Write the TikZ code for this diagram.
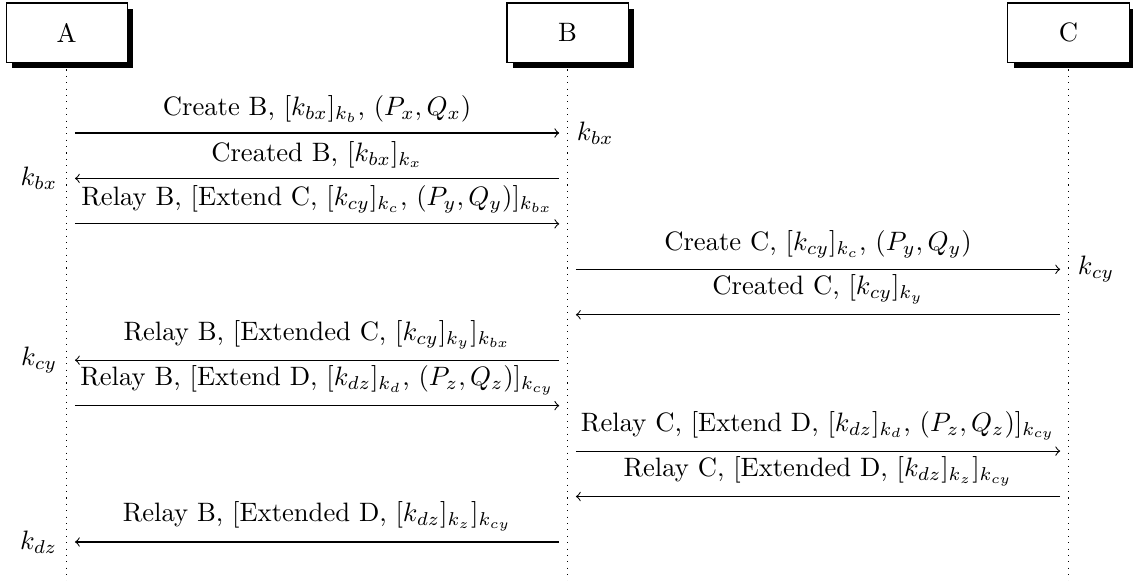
\documentclass[tikz,border=0pt]{standalone}
\usepackage{amsmath,amssymb}
\usepackage{tikz}
\usetikzlibrary{arrows,positioning,calc,shadows}
\tikzstyle{thread}=[draw,fill=white,minimum width=1.6cm,minimum height=0.78cm,drop shadow={opacity=1,fill=black}]
\tikzstyle{mess}=[->,shorten <=1.1mm,shorten >=1.1mm]
\tikzstyle{life}=[dotted]

\begin{document}
\begin{tikzpicture}
\useasboundingbox (0,0) rectangle (14.96,-7.667);
\node [thread] (A) at (0.88,-0.43) {A};
\node [thread,right=5cm of A] (B) {B};
\node [thread,right=5cm of B] (C) {C};
\coordinate (end) at (0,-7.667);
\draw [life] ([yshift=-0.09cm]A.south) -- (A |- end);
\draw [life] ([yshift=-0.09cm]B.south) -- (B |- end);
\draw [life] ([yshift=-0.09cm]C.south) -- (C |- end);
% message levels
\foreach \i in {1,...,10}
  \coordinate (l\i) at (0,{-1.756-0.6*(\i-1)});
% A -- B
\draw [mess] (A |- l1) -- node[above=0.5pt] {Create B, $[k_{bx}]_{k_b}$, $(P_x,Q_x)$} (B |- l1);
\node [right] (kb) at (B |- l1) {$k_{bx}$};
\draw [mess] (B |- l2) -- node[above=0.5pt] {Created B, $[k_{bx}]_{k_x}$} (A |- l2);
\node [left] (ka) at (A |- l2) {$k_{bx}$};
\draw [mess] (A |- l3) -- node[above=0.5pt] {Relay B, [Extend C, $[k_{cy}]_{k_c}$, $(P_y,Q_y)]_{k_{bx}}$} (B |- l3);
% B -- C
\draw [mess] (B |- l4) -- node[above=0.5pt] {Create C, $[k_{cy}]_{k_c}$, $(P_y,Q_y)$} (C |- l4);
\node [right] (kc) at (C |- l4) {$k_{cy}$};
\draw [mess] (C |- l5) -- node[above=0.5pt] {Created C, $[k_{cy}]_{k_y}$} (B |- l5);
\draw [mess] (B |- l6) -- node[above=0.5pt] {Relay B, [Extended C, $[k_{cy}]_{k_y}]_{k_{bx}}$} (A |- l6);
\node [left] (kac) at (A |- l6) {$k_{cy}$};
\draw [mess] (A |- l7) -- node[above=0.5pt] {Relay B, [Extend D, $[k_{dz}]_{k_d}$, $(P_z,Q_z)]_{k_{cy}}$} (B |- l7);
\draw [mess] (B |- l8) -- node[above=0.5pt] {Relay C, [Extend D, $[k_{dz}]_{k_d}$, $(P_z,Q_z)]_{k_{cy}}$} (C |- l8);
\draw [mess] (C |- l9) -- node[above=0.5pt] {Relay C, [Extended D, $[k_{dz}]_{k_z}]_{k_{cy}}$} (B |- l9);
\draw [mess] (B |- l10) -- node[above=0.5pt] {Relay B, [Extended D, $[k_{dz}]_{k_z}]_{k_{cy}}$} (A |- l10);
\node [left] (kad) at (A |- l10) {$k_{dz}$};
\end{tikzpicture}
\end{document}
